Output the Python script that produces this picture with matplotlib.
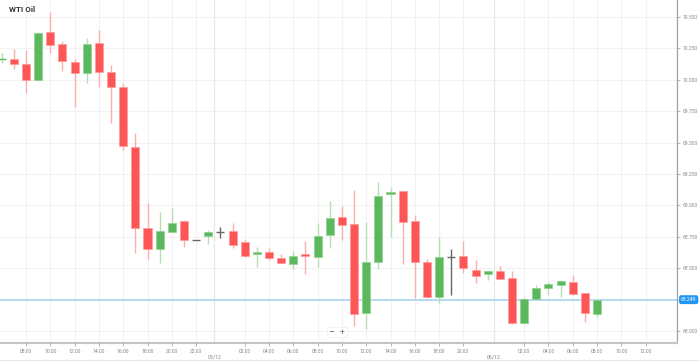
import matplotlib
matplotlib.use('Agg')
import matplotlib.pyplot as plt
from matplotlib.lines import Line2D

# hourly candles, WTI Oil
opens = [70.165, 70.166, 70.123, 69.998, 70.378, 70.283, 70.142, 70.057, 70.293, 70.060,
         69.945, 69.467, 68.818, 68.650, 68.791, 68.873, 68.722, 68.754, 68.791, 68.799,
         68.706, 68.613, 68.631, 68.579, 68.536, 68.613, 68.589, 68.760, 68.905, 68.852,
         68.143, 68.549, 69.093, 69.112, 68.876, 68.547, 68.271, 68.587, 68.597, 68.486,
         68.454, 68.478, 68.420, 68.061, 68.257, 68.340, 68.369, 68.393, 68.300, 68.135]
highs = [70.213, 70.248, 70.237, 70.383, 70.540, 70.307, 70.166, 70.335, 70.399, 70.116,
         69.972, 69.579, 69.017, 68.947, 68.977, 68.884, 68.722, 68.804, 68.830, 68.858,
         68.733, 68.671, 68.663, 68.613, 68.637, 68.714, 68.858, 69.035, 68.998, 69.123,
         68.865, 69.184, 69.149, 69.115, 68.921, 68.571, 68.746, 68.650, 68.717, 68.565,
         68.475, 68.518, 68.475, 68.271, 68.364, 68.390, 68.406, 68.443, 68.300, 68.249]
lows = [70.134, 70.086, 69.897, 69.988, 70.216, 70.068, 69.786, 69.977, 69.945, 69.656,
        69.441, 68.619, 68.573, 68.539, 68.785, 68.671, 68.722, 68.690, 68.738, 68.658,
        68.587, 68.507, 68.565, 68.539, 68.491, 68.451, 68.507, 68.657, 68.727, 68.040,
        68.014, 68.494, 68.751, 68.531, 68.260, 68.260, 68.221, 68.287, 68.464, 68.385,
        68.406, 68.416, 68.053, 68.053, 68.247, 68.287, 68.273, 68.289, 68.069, 68.109]
closes = [70.172, 70.126, 69.998, 70.373, 70.277, 70.147, 70.057, 70.287, 70.060, 69.940,
          69.473, 68.818, 68.655, 68.794, 68.862, 68.722, 68.722, 68.791, 68.791, 68.685,
          68.600, 68.629, 68.584, 68.541, 68.600, 68.597, 68.754, 68.902, 68.844, 68.135,
          68.547, 69.077, 69.107, 68.870, 68.547, 68.268, 68.587, 68.587, 68.499, 68.440,
          68.475, 68.416, 68.066, 68.257, 68.342, 68.377, 68.398, 68.297, 68.146, 68.249]

# axis slots: (date label, hour); one hour missing on the second evening
slot_days = ["04/12"] * 18 + ["05/12"] * 23 + ["06/12"] * 15
slot_hours = list(range(6, 24)) + list(range(0, 23)) + list(range(0, 15))
last_price = 68.249
y_ticks = [68.0, 68.25, 68.5, 68.75, 69.0, 69.25, 69.5, 69.75, 70.0, 70.25, 70.5]

UP = '#5cb85c'
DOWN = '#fd5656'
UP_WICK = '#b5dfb5'
DOWN_WICK = '#fbb0b0'
DOJI = '#666666'

fig = plt.figure(figsize=(6.99, 3.62), dpi=100)
ax = fig.add_axes([0, 19 / 362, 677 / 699, 343 / 362])
x_lo, x_hi = -0.14, 55.58

# day separators and time ticks
separators = []
for i in range(1, len(slot_days)):
    if slot_days[i] != slot_days[i - 1]:
        separators.append((i - 0.5, slot_days[i]))
tick_pos = []
tick_lab = []
for i, h in enumerate(slot_hours):
    if i < 1 or i > x_hi - 1.5:
        continue
    if h % 2 == 0 and h != 0 and all(abs(i - s) > 1 for s, _ in separators):
        tick_pos.append(i)
        tick_lab.append("%02d:00" % h)

for yv in y_ticks:
    ax.axhline(yv, color='#f2f2f2', lw=0.8, zorder=0)
for xv in tick_pos:
    ax.axvline(xv, color='#f2f2f2', lw=0.8, zorder=0)
for s, lab in separators:
    ax.axvline(s, color='#e8e8e8', lw=0.9, zorder=0)
    ax.text(s, -14 / 343, lab, transform=ax.get_xaxis_transform(), ha='center', va='center',
            fontsize=3.8, color='#888888', family='Roboto')

# candles
w = 0.66
for i in range(len(opens)):
    o, h, l, c = opens[i], highs[i], lows[i], closes[i]
    if abs(c - o) < 1e-6:
        col, wick, edge = DOJI, DOJI, DOJI
    elif c > o:
        col, wick, edge = UP, UP_WICK, '#8fd08f'
    else:
        col, wick, edge = DOWN, DOWN_WICK, '#ff9a9a'
    if i == 0:
        col, wick, edge = UP, UP_WICK, UP
    ax.vlines(i, l, h, color=wick, lw=1.0, zorder=2)
    if abs(c - o) < 1e-6 or i == 0:
        ax.hlines((o + c) / 2, i - w / 2, i + w / 2, color=col, lw=1.0, zorder=3)
    else:
        ax.bar(i, abs(c - o), bottom=min(o, c), width=w, color=col,
               edgecolor=edge, lw=0.5, zorder=3)

# last price line and badge
ax.axhline(last_price, color='#a9d5f2', lw=1.2, zorder=1)
ax.text(1.006, last_price, "%.3f" % last_price, transform=ax.get_yaxis_transform(),
        ha='left', va='center', fontsize=3.6, color='white', family='Roboto',
        bbox=dict(boxstyle='round,pad=0.25,rounding_size=0.3', fc='#2196f3', ec='#2196f3'),
        zorder=5, clip_on=False)

ax.set_xlim(x_lo, x_hi)
ax.set_ylim(67.904, 70.635)

ax.yaxis.tick_right()
ax.set_yticks(y_ticks)
ax.set_yticklabels(["%.3f" % v for v in y_ticks])
ax.set_xticks(tick_pos)
ax.set_xticklabels(tick_lab)
ax.tick_params(axis='both', labelsize=3.6, labelcolor='#888888', color='#aaaaaa',
               length=2, width=0.6, pad=2)
for lab in ax.get_xticklabels() + ax.get_yticklabels():
    lab.set_family('Roboto')

for side in ['top', 'left']:
    ax.spines[side].set_visible(False)
ax.spines['right'].set_color('#a0a0a0')
ax.spines['right'].set_linewidth(0.9)
ax.spines['bottom'].set_color('#c4c4c4')
ax.spines['bottom'].set_linewidth(1.5)

ax.text(9 / 677, 1 - 10 / 343, "WTI Oil", transform=ax.transAxes, ha='left', va='center',
        fontsize=5.8, fontweight='bold', color='#333333', family='Roboto')

# zoom buttons
ax.text(0.4975, 0.033, "\u2212  +", transform=ax.transAxes, ha='center', va='center',
        fontsize=5, color='#555555', family='DejaVu Sans',
        bbox=dict(boxstyle='square,pad=0.3', fc='white', ec='#eeeeee', lw=0.5))

fig.add_artist(Line2D([0, 1], [2 / 362, 2 / 362], color='#e6e6e6', lw=0.8))

plt.savefig('out.png', dpi=100)
